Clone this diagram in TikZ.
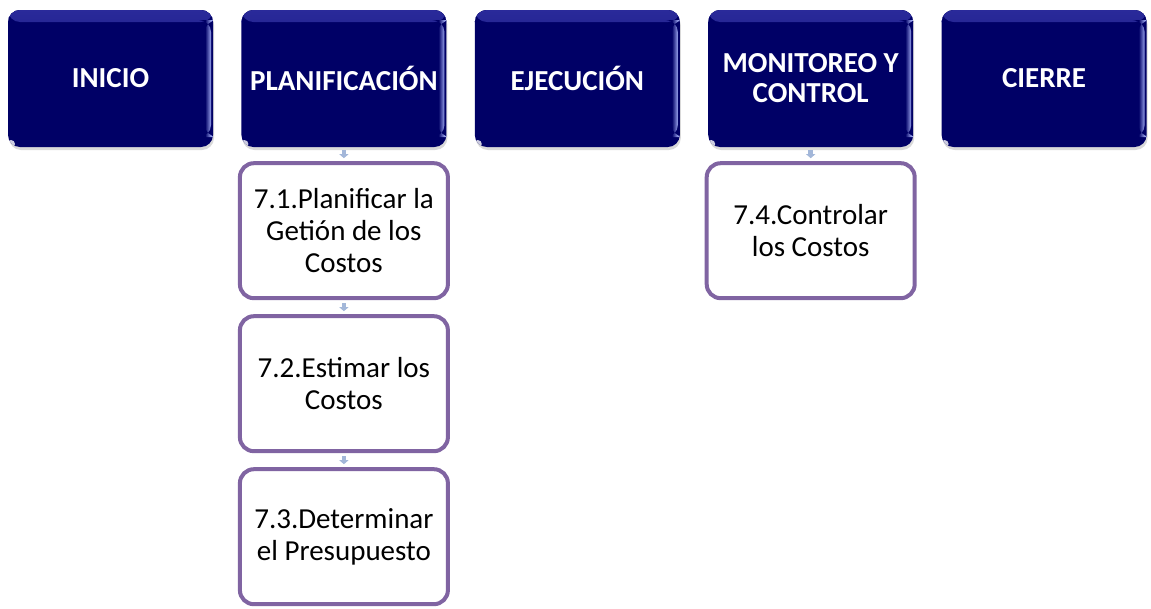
\documentclass[tikz,border=0pt]{standalone}
\usepackage{fontspec}
\setmainfont{Carlito}
\usetikzlibrary{positioning, arrows.meta, shadows}
\definecolor{phaseNavy}{HTML}{000066}
\definecolor{phaseGloss}{HTML}{2A2A9A}
\definecolor{phaseRim}{HTML}{9AA4EE}
\definecolor{taskPurple}{HTML}{8064A2}
\definecolor{linkBlue}{HTML}{A3B7D9}

\tikzset{
  phase/.style={rounded corners=12pt, fill=phaseNavy,
    minimum width=205pt, minimum height=137pt, align=center,
    text=white, font=\fontsize{29}{30}\selectfont\bfseries,
    drop shadow={opacity=0.3, shadow xshift=1pt, shadow yshift=-3pt},
    path picture={
      \fill[top color=phaseGloss, bottom color=phaseNavy]
        (path picture bounding box.north west) rectangle
        ([yshift=-12pt]path picture bounding box.north east);
      \fill[left color=phaseNavy, right color=phaseRim]
        ([xshift=-8pt, yshift=-10pt]path picture bounding box.north east) rectangle
        ([xshift=-2pt, yshift=10pt]path picture bounding box.south east);
      \fill[white, opacity=0.8]
        ([xshift=3pt, yshift=3pt]path picture bounding box.south west) circle (4pt);
    }},
  task/.style={rounded corners=14pt, draw=taskPurple, line width=4pt, fill=white,
    minimum width=208pt, minimum height=135pt, align=center,
    font=\fontsize{29}{32}\selectfont},
  link/.style={-{Triangle[width=9pt, length=4pt]}, line width=4.5pt, linkBlue,
    shorten <=3pt, shorten >=3pt}
}

\begin{document}
\begin{tikzpicture}
  \useasboundingbox (0pt,0pt) rectangle (1151pt,-608pt);

  % fases
  \node[phase] (ini) at (110.5pt,-78.5pt) {INICIO};
  \node[phase, right=28pt of ini] (plan) {PLANIFICACIÓN};
  \node[phase, right=28pt of plan] (ejec) {EJECUCIÓN};
  \node[phase, right=28pt of ejec] (moni) {MONITOREO Y\\CONTROL};
  \node[phase, right=28pt of moni] (cier) {CIERRE};

  % procesos
  \node[task, below=14pt of plan] (p1) {7.1.Planificar la\\Getión de los\\Costos};
  \node[task, below=14pt of p1] (p2) {7.2.Estimar los\\Costos};
  \node[task, below=14pt of p2] (p3) {7.3.Determinar\\el Presupuesto};
  \node[task, below=14pt of moni] (p4) {7.4.Controlar\\los Costos};

  \draw[link] (plan.south) -- (p1.north);
  \draw[link] (p1.south) -- (p2.north);
  \draw[link] (p2.south) -- (p3.north);
  \draw[link] (moni.south) -- (p4.north);
\end{tikzpicture}
\end{document}
